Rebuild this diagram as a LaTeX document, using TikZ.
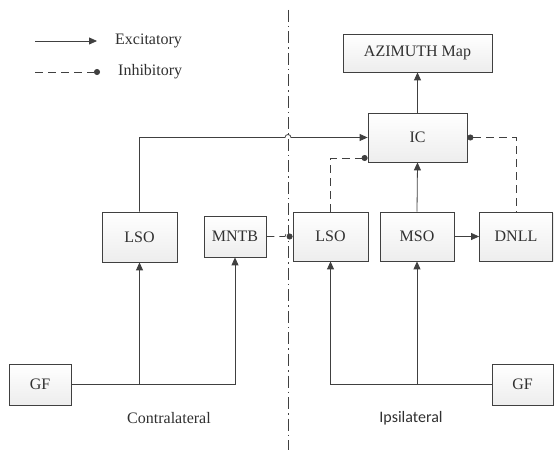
\documentclass[tikz,border=0pt]{standalone}
\usepackage{fontspec}
\setmainfont{Liberation Serif}
\newfontfamily\ipsifont{Carlito}
\usetikzlibrary{arrows.meta,shadows,calc}
\definecolor{ln}{HTML}{404040}
\definecolor{tx}{HTML}{303030}
\tikzset{
  blk/.style={draw=ln, line width=0.8pt, rectangle, top color=white, bottom color=gray!14,
    drop shadow={shadow xshift=1pt, shadow yshift=-1pt, opacity=0.15},
    text=tx, font=\fontsize{16}{19}\selectfont, inner sep=0pt},
  con/.style={draw=ln, line width=0.8pt},
  exc/.style={con, -{Triangle[length=8pt,width=7pt]}},
  inh/.style={con, dash pattern=on 8pt off 5pt, -{Circle[length=6pt]}},
  inhs/.style={con, dash pattern=on 8pt off 5pt, {Circle[length=6pt]}-},
  divider/.style={draw=ln, line width=0.8pt, dash pattern=on 12pt off 4pt on 1.5pt off 4pt},
  lbl/.style={text=tx, font=\fontsize{16}{19}\selectfont, inner sep=0pt}
}
\begin{document}
\begin{tikzpicture}[x=1pt,y=1pt]
\useasboundingbox (0,0) rectangle (554,450);
% divider
\coordinate (dtop) at (288,440);
\coordinate (dbot) at (288,0);
\draw[divider] (dtop) -- (dbot);
% legend
\coordinate (le1) at (35,409);
\coordinate (le2) at (97,409);
\coordinate (li1) at (35,378);
\coordinate (li2) at (100,378);
\draw[exc] (le1) -- (le2);
\draw[inh] (li1) -- (li2);
\node[lbl, anchor=west] (lexc) at (115,409) {Excitatory};
\node[lbl, anchor=west] (linh) at (118,378) {Inhibitory};
% boxes
\node[blk, minimum width=149pt, minimum height=38pt] (AZ) at (417.5,397) {AZIMUTH Map};
\node[blk, minimum width=99pt, minimum height=49pt] (IC) at (417.5,312.5) {IC};
\node[blk, minimum width=75pt, minimum height=50pt] (LSOL) at (139.5,213) {LSO};
\node[blk, minimum width=62pt, minimum height=41pt] (MNTB) at (235,213.5) {MNTB};
\node[blk, minimum width=75pt, minimum height=49pt] (LSOR) at (330.5,213.5) {LSO};
\node[blk, minimum width=74pt, minimum height=49pt] (MSO) at (417,213.5) {MSO};
\node[blk, minimum width=73pt, minimum height=49pt] (DNLL) at (516,213.5) {DNLL};
\node[blk, minimum width=62pt, minimum height=41pt] (GFL) at (40,65.5) {GF};
\node[blk, minimum width=61pt, minimum height=41pt] (GFR) at (522.5,65.5) {GF};
% side labels
\node[lbl] (contra) at (169,32) {Contralateral};
\node[lbl, font=\ipsifont\fontsize{16}{19}\selectfont] (ipsi) at (411,32) {Ipsilateral};
% contralateral inputs
\draw[con] (GFL.east) -- (MNTB.south |- GFL.east);
\draw[exc] (MNTB.south |- GFL.east) -- (MNTB.south);
\draw[exc] (LSOL.south |- GFL.east) -- (LSOL.south);
% ipsilateral inputs
\draw[con] (GFR.west) -- (LSOR.south |- GFR.west);
\draw[exc] (LSOR.south |- GFR.west) -- (LSOR.south);
\draw[exc] (MSO.south |- GFR.west) -- (MSO.south);
% LSO left to IC, hopping over divider
\draw[exc] (LSOL.north) |- ($(dtop |- IC.west)+(-3,0)$) arc (180:0:3) -- (IC.west);
% MNTB to LSO right, hopping over divider
\draw[inh] (MNTB.east) -- ($(dtop |- MNTB.east)+(-3,0)$) arc (180:0:3) -- (LSOR.west);
% LSO right to IC
\draw[inh] (LSOR.north) |- ($(IC.west)+(0,-20.5)$);
% IC to DNLL
\draw[inhs] (IC.east) -| (DNLL.north);
% MSO
\draw[exc] (MSO.east) -- (DNLL.west);
\draw[exc] (MSO.north) -- (IC.south);
\draw[exc] (IC.north) -- (AZ.south);
\end{tikzpicture}
\end{document}
